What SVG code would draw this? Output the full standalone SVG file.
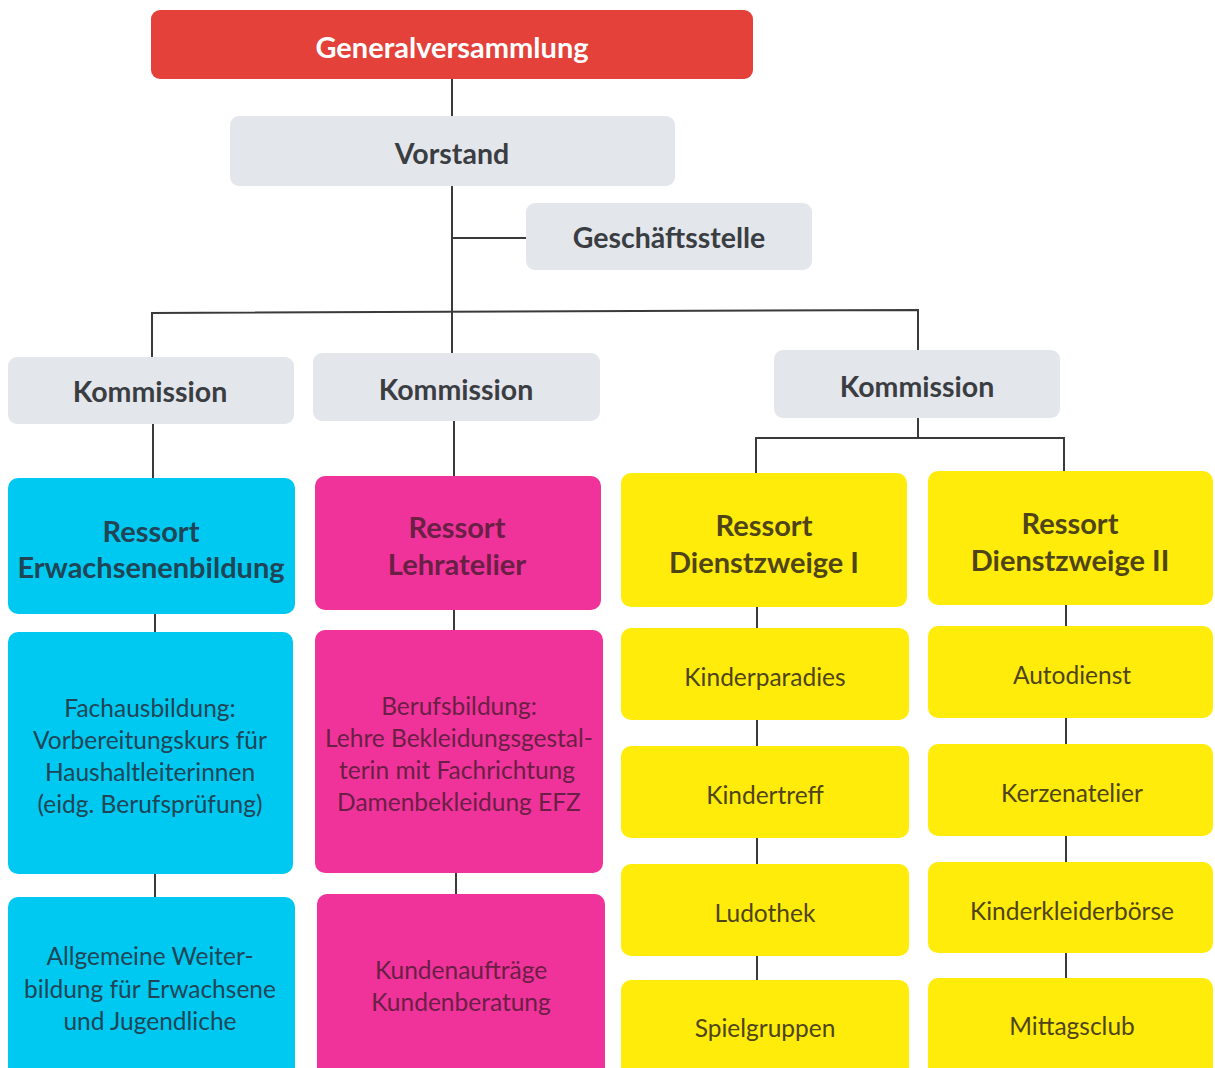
<svg xmlns="http://www.w3.org/2000/svg" width="1215" height="1068" viewBox="0 0 1215 1068">
<style>
text{font-family:Lato,"Open Sans","Liberation Sans",sans-serif;text-anchor:middle;dominant-baseline:central}
.b{font-weight:bold}
.h1{font-size:29px;fill:#ffffff}
.h2{font-size:28.5px;fill:#3a3d42}
.h3{font-size:29px}
.t{font-size:24.5px}
.red{fill:#e4413a}
.gray{fill:#e3e6eb}
.cyan{fill:#00c9f1}
.mag{fill:#f0339b}
.yel{fill:#ffec0a}
.tc{fill:#1f4556}
.tm{fill:#6a1f45}
.ty{fill:#4e4418}
#connectors line,#connectors polyline{stroke:#3a3a3a;stroke-width:2;fill:none}
</style>
<rect width="1215" height="1068" fill="#ffffff"/>
<g id="connectors">
<line x1="452" y1="79" x2="452" y2="116"/>
<line x1="452" y1="186" x2="452" y2="354"/>
<line x1="452" y1="238" x2="526" y2="238"/>
<polyline points="152,357 152,313 918,310 918,350"/>
<line x1="153" y1="424" x2="153" y2="478"/>
<line x1="454" y1="421" x2="454" y2="476"/>
<line x1="918" y1="418" x2="918" y2="438"/>
<polyline points="756,473 756,438 1064,438 1064,471"/>
<line x1="155" y1="614" x2="155" y2="632"/>
<line x1="155" y1="874" x2="155" y2="897"/>
<line x1="454" y1="610" x2="454" y2="630"/>
<line x1="456" y1="873" x2="456" y2="894"/>
<line x1="757" y1="607" x2="757" y2="628"/>
<line x1="757" y1="720" x2="757" y2="746"/>
<line x1="757" y1="838" x2="757" y2="864"/>
<line x1="757" y1="956" x2="757" y2="980"/>
<line x1="1066" y1="605" x2="1066" y2="626"/>
<line x1="1066" y1="718" x2="1066" y2="744"/>
<line x1="1066" y1="836" x2="1066" y2="862"/>
<line x1="1066" y1="953" x2="1066" y2="978"/>
</g>
<g id="n-gv"><rect class="red" x="151" y="10" width="602" height="69" rx="9"/><text class="b h1" x="452" y="46">Generalversammlung</text></g>
<g id="n-vorstand"><rect class="gray" x="230" y="116" width="445" height="70" rx="9"/><text class="b h2" x="452" y="153">Vorstand</text></g>
<g id="n-gs"><rect class="gray" x="526" y="203" width="286" height="67" rx="9"/><text class="b h2" x="669" y="237">Geschäftsstelle</text></g>
<g id="n-k1"><rect class="gray" x="8" y="357" width="286" height="67" rx="9"/><text class="b h2" x="150" y="391">Kommission</text></g>
<g id="n-k2"><rect class="gray" x="313" y="353" width="287" height="68" rx="9"/><text class="b h2" x="456" y="389">Kommission</text></g>
<g id="n-k3"><rect class="gray" x="774" y="350" width="286" height="68" rx="9"/><text class="b h2" x="917" y="386">Kommission</text></g>
<g id="n-r1"><rect class="cyan" x="8" y="478" width="287" height="136" rx="10"/><text class="b h3 tc" x="151" y="530">Ressort</text><text class="b h3 tc" x="151" y="566">Erwachsenenbildung</text></g>
<g id="n-r2"><rect class="mag" x="315" y="476" width="286" height="134" rx="10"/><text class="b h3 tm" x="457" y="526">Ressort</text><text class="b h3 tm" x="457" y="563">Lehratelier</text></g>
<g id="n-r3"><rect class="yel" x="621" y="473" width="286" height="134" rx="10"/><text class="b h3 ty" x="764" y="524">Ressort</text><text class="b h3 ty" x="764" y="561">Dienstzweige I</text></g>
<g id="n-r4"><rect class="yel" x="928" y="471" width="285" height="134" rx="10"/><text class="b h3 ty" x="1070" y="522">Ressort</text><text class="b h3 ty" x="1070" y="559">Dienstzweige II</text></g>
<g id="n-fach"><rect class="cyan" x="8" y="632" width="285" height="242" rx="10"/><text class="t tc" x="150" y="707">Fachausbildung:</text><text class="t tc" x="150" y="739">Vorbereitungskurs für</text><text class="t tc" x="150" y="771">Haushaltleiterinnen</text><text class="t tc" x="150" y="803">(eidg. Berufsprüfung)</text></g>
<g id="n-allg"><rect class="cyan" x="8" y="897" width="287" height="185" rx="10"/><text class="t tc" x="150" y="955">Allgemeine Weiter-</text><text class="t tc" x="150" y="988">bildung für Erwachsene</text><text class="t tc" x="150" y="1020">und Jugendliche</text></g>
<g id="n-beruf"><rect class="mag" x="315" y="630" width="288" height="243" rx="10"/><text class="t tm" x="459" y="705">Berufsbildung:</text><text class="t tm" x="459" y="737">Lehre Bekleidungsgestal-</text><text class="t tm" x="457" y="769">terin mit Fachrichtung</text><text class="t tm" x="459" y="801">Damenbekleidung EFZ</text></g>
<g id="n-kunden"><rect class="mag" x="317" y="894" width="288" height="188" rx="10"/><text class="t tm" x="461" y="969">Kundenaufträge</text><text class="t tm" x="461" y="1001">Kundenberatung</text></g>
<g id="n-kp"><rect class="yel" x="621" y="628" width="288" height="92" rx="10"/><text class="t ty" x="765" y="676">Kinderparadies</text></g>
<g id="n-kt"><rect class="yel" x="621" y="746" width="288" height="92" rx="10"/><text class="t ty" x="765" y="794">Kindertreff</text></g>
<g id="n-lu"><rect class="yel" x="621" y="864" width="288" height="92" rx="10"/><text class="t ty" x="765" y="912">Ludothek</text></g>
<g id="n-sp"><rect class="yel" x="621" y="980" width="288" height="100" rx="10"/><text class="t ty" x="765" y="1027">Spielgruppen</text></g>
<g id="n-ad"><rect class="yel" x="928" y="626" width="285" height="92" rx="10"/><text class="t ty" x="1072" y="674">Autodienst</text></g>
<g id="n-ke"><rect class="yel" x="928" y="744" width="285" height="92" rx="10"/><text class="t ty" x="1072" y="792">Kerzenatelier</text></g>
<g id="n-kk"><rect class="yel" x="928" y="862" width="285" height="91" rx="10"/><text class="t ty" x="1072" y="910">Kinderkleiderbörse</text></g>
<g id="n-mc"><rect class="yel" x="928" y="978" width="285" height="102" rx="10"/><text class="t ty" x="1072" y="1025">Mittagsclub</text></g>
</svg>
